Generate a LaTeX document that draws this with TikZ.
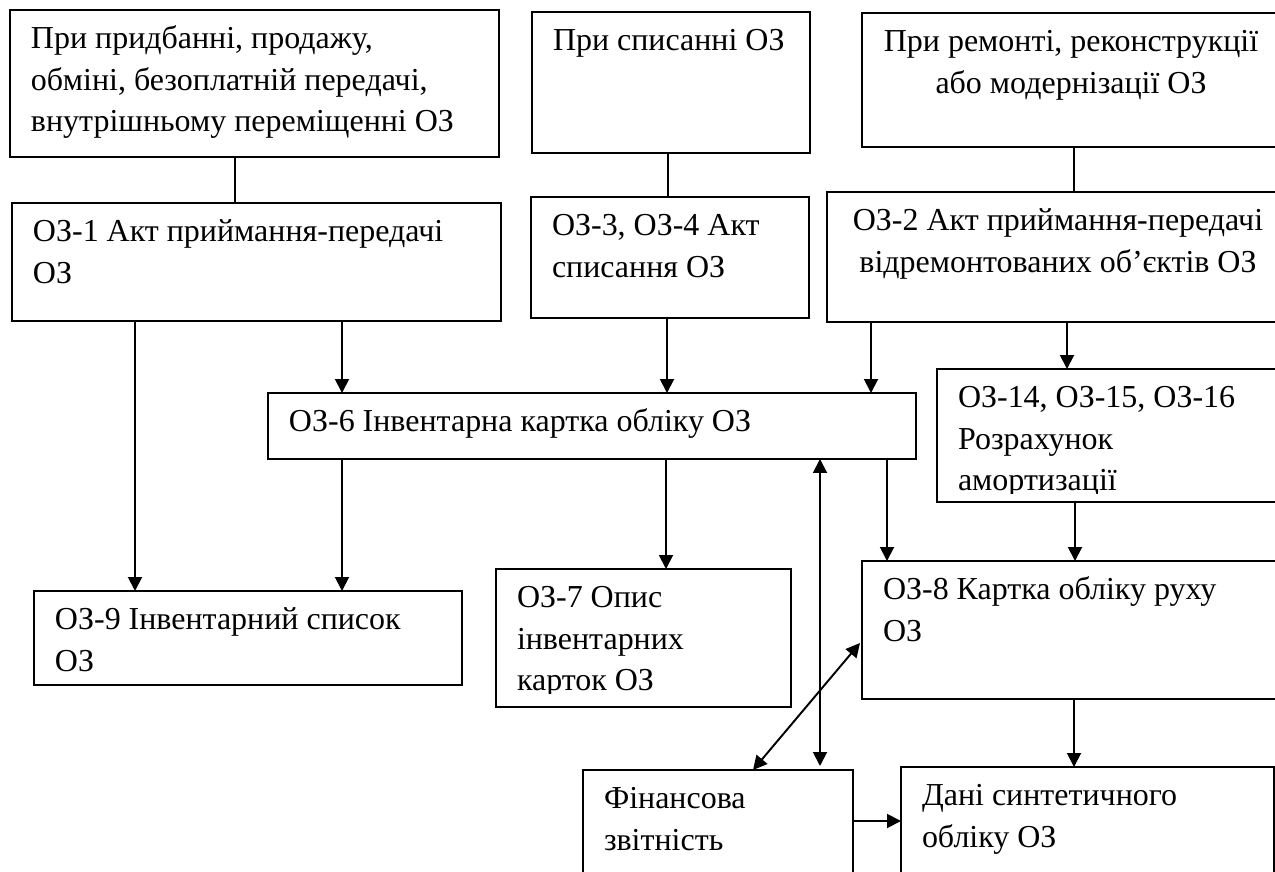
\documentclass[tikz,border=0pt]{standalone}
\usepackage{fontspec}
\setmainfont{Liberation Serif}
\usetikzlibrary{arrows.meta,calc}

\newdimen\px \px=0.02cm
% text inside a box, set from the top
\newcommand{\ltext}[3]{\parbox[c][#2\px][t]{#1\px}{\raggedright\rightskip-60\px plus 1fil\strut#3}}
\newcommand{\ctext}[3]{\parbox[c][#2\px][t]{#1\px}{\centering\leftskip-60\px plus 1fil\rightskip-60\px plus 1fil\strut#3}}

\tikzset{
  box/.style={draw, line width=1.4pt, outer sep=0pt, anchor=north west, inner xsep=0.42cm, inner ysep=0.2cm,
    font=\fontsize{18.2pt}{23.5pt}\selectfont},
  link/.style={line width=1.1pt},
  arr/.style={line width=1.1pt, -{Triangle[length=0.28cm,width=0.28cm]}},
  dblarr/.style={line width=1.1pt, {Triangle[length=0.28cm,width=0.28cm]}-{Triangle[length=0.28cm,width=0.28cm]}}
}

\begin{document}
\begin{tikzpicture}[x=0.02cm, y=-0.02cm]
            \clip (0,0) rectangle (1275,872);
            \fill[white] (0,0) rectangle (1275,872);

            % Drawing the top boxes
            \node[box] (a) at (10,10) {\ltext{447}{127}{При придбанні, продажу,\\обміні, безоплатній передачі,\\внутрішньому переміщенні ОЗ}};
            \node[box] (c) at (532,12) {\ltext{236}{121}{При списанні ОЗ}};
            \node[box] (e) at (862,13) {\ctext{376}{114}{При ремонті, реконструкції\\або модернізації ОЗ}};

            % Drawing the acts
            \node[box] (b) at (12,203) {\ltext{447}{98}{ОЗ-1 Акт приймання-передачі\\ОЗ}};
            \node[box] (d) at (531,197) {\ltext{236}{101}{ОЗ-3, ОЗ-4 Акт\\списання ОЗ}};
            \node[box] (f) at (827,192) {\ctext{420}{110}{ОЗ-2 Акт приймання-передачі\\відремонтованих об’єктів ОЗ}};

            % Drawing the cards and lists
            \node[box] (g) at (268,393) {\ltext{606}{46}{ОЗ-6 Інвентарна картка обліку ОЗ}};
            \node[box] (h) at (34,591) {\ltext{386}{74}{ОЗ-9 Інвентарний список\\ОЗ}};
            \begin{scope}
              \clip (0,0) rectangle (1275,693);
              \node[box] (i) at (496,569) {\ltext{253}{118}{ОЗ-7 Опис\\інвентарних\\карток ОЗ}};
            \end{scope}
            \draw[line width=1.4pt] (i.north west) rectangle (i.south east);
            \begin{scope}
              \clip (0,0) rectangle (1275,493);
              \node[box] (k) at (937,369) {\ltext{311}{113}{ОЗ-14, ОЗ-15, ОЗ-16\\Розрахунок\\амортизації}};
            \end{scope}
            \draw[line width=1.4pt] (k.north west) rectangle (k.south east);
            \node[box] (j) at (862,561) {\ltext{386}{118}{ОЗ-8 Картка обліку руху\\ОЗ}};

            % Drawing the bottom boxes
            \node[box] (l) at (583,770) {\ltext{228}{110}{Фінансова\\звітність}};
            \node[box] (m) at (901,767) {\ltext{331}{110}{Дані синтетичного\\обліку ОЗ}};

            % Drawing the links
            \draw[link] (235,0 |- a.south) -- (235,0 |- b.north);
            \draw[link] (668,0 |- c.south) -- (668,0 |- d.north);
            \draw[link] (1074,0 |- e.south) -- (1074,0 |- f.north);

            % Drawing the arrows
            \draw[arr] (135,0 |- b.south) -- (135,0 |- h.north);
            \draw[arr] (342,0 |- b.south) -- (342,0 |- g.north);
            \draw[arr] (667,0 |- d.south) -- (667,0 |- g.north);
            \draw[arr] (871,0 |- f.south) -- (871,0 |- g.north);
            \draw[arr] (1067,0 |- f.south) -- (1067,0 |- k.north);
            \draw[arr] (342,0 |- g.south) -- (342,0 |- h.north);
            \draw[arr] (666,0 |- g.south) -- (666,0 |- i.north);
            \draw[arr] (887,0 |- g.south) -- (887,0 |- j.north);
            \draw[arr] (1075,0 |- k.south) -- (1075,0 |- j.north);
            \draw[arr] (1074,0 |- j.south) -- (1074,0 |- m.north);
            \draw[arr] (l.east |- 0,821) -- (m.west |- 0,821);
            \draw[dblarr, shorten <=0.08cm] (820,0 |- l.north) -- (820,0 |- g.south);
            \draw[dblarr] ($(l.north west)+(170,0)$) -- ($(j.north west)+(-2,82)$);
        \end{tikzpicture}
\end{document}
